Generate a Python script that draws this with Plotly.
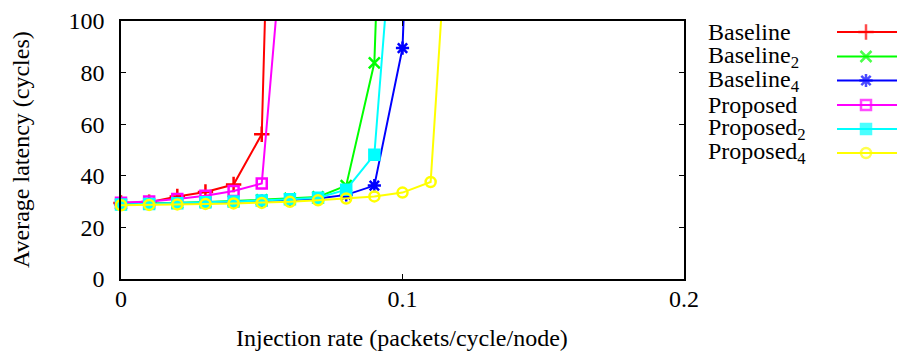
import plotly.graph_objects as go

# Injection rates (packets/cycle/node)
x_baseline = [0.00, 0.01, 0.02, 0.03, 0.04, 0.05, 0.06]
x_baseline2 = [0.00, 0.01, 0.02, 0.03, 0.04, 0.05, 0.06, 0.07, 0.08, 0.09, 0.10]
x_baseline4 = [0.00, 0.01, 0.02, 0.03, 0.04, 0.05, 0.06, 0.07, 0.08, 0.09, 0.10, 0.11]
x_proposed = [0.00, 0.01, 0.02, 0.03, 0.04, 0.05, 0.06]
x_proposed2 = [0.00, 0.01, 0.02, 0.03, 0.04, 0.05, 0.06, 0.07, 0.08, 0.09, 0.10]
x_proposed4 = [0.00, 0.01, 0.02, 0.03, 0.04, 0.05, 0.06, 0.07, 0.08, 0.09, 0.10, 0.11, 0.12]

# Average latency (cycles)
y_baseline = [29.5, 29.8, 32.0, 33.7, 36.6, 56.1, 450]
y_baseline2 = [29.0, 29.2, 29.5, 29.8, 30.2, 30.7, 31.2, 31.8, 36.2, 83.8, 400]
y_baseline4 = [28.9, 29.0, 29.3, 29.6, 29.9, 30.2, 30.6, 31.2, 32.6, 36.2, 89.5, 380]
y_proposed = [29.6, 30.0, 31.0, 32.3, 34.1, 37.0, 164]
y_proposed2 = [28.9, 29.1, 29.4, 29.7, 30.0, 30.4, 30.9, 31.5, 34.6, 48.2, 187]
y_proposed4 = [28.6, 28.7, 28.9, 29.1, 29.3, 29.5, 29.9, 30.5, 31.2, 32.0, 33.5, 37.6, 207]

names = ["Baseline", "Baseline<sub>2</sub>", "Baseline<sub>4</sub>",
         "Proposed", "Proposed<sub>2</sub>", "Proposed<sub>4</sub>"]
colors = ["#ff0000", "#00ff00", "#0000ff", "#ff00ff", "#00ffff", "#ffff00"]
symbols = ["cross-thin", "x-thin", "asterisk", "square-open", "square", "circle-open"]
sizes = [11, 11, 11, 10, 10, 10]

xs = [x_baseline, x_baseline2, x_baseline4, x_proposed, x_proposed2, x_proposed4]
ys = [y_baseline, y_baseline2, y_baseline4, y_proposed, y_proposed2, y_proposed4]

FONT = "Liberation Serif"
FS = 24
W, H = 899, 356
L, R, T, B = 121, 2, 21, 77
plot_w = W - L - R
plot_h = H - T - B
main_right = (684 - L) / plot_w


def px_to_paper_x(px):
    return (px - L) / plot_w


def px_to_paper_y(py):
    return (H - B - py) / plot_h


fig = go.Figure()

for x, y, nm, c, s, sz in zip(xs, ys, names, colors, symbols, sizes):
    fig.add_trace(go.Scatter(
        x=x, y=y, mode="lines+markers", name=nm,
        line=dict(color=c, width=2),
        marker=dict(symbol=s, size=sz, color=c, line=dict(color=c, width=2.5)),
        cliponaxis=False, showlegend=False,
    ))

# Key: label on the left, line sample with marker on the right
key_rows = [32, 56.5, 80.5, 105, 129, 153]
key_x0, key_x1, key_mid = 837, 897, 866
for row, nm, c, s, sz in zip(key_rows, names, colors, symbols, sizes):
    fig.add_trace(go.Scatter(
        x=[key_x0, key_mid, key_x1], y=[row, row, row], mode="lines+markers",
        xaxis="x2", yaxis="y2",
        line=dict(color=c, width=2),
        marker=dict(symbol=s, size=[0, sz, 0], color=c, line=dict(color=c, width=2.5)),
        showlegend=False, hoverinfo="skip", cliponaxis=False,
    ))
    fig.add_annotation(
        x=px_to_paper_x(706), y=px_to_paper_y(row), xref="paper", yref="paper",
        text=nm, showarrow=False, xanchor="left", yanchor="middle",
        font=dict(family=FONT, size=FS, color="black"),
    )

# Axis titles
fig.add_annotation(
    x=px_to_paper_x(21), y=px_to_paper_y(150), xref="paper", yref="paper",
    text="Average latency (cycles)", textangle=-90, showarrow=False,
    xanchor="center", yanchor="middle", font=dict(family=FONT, size=FS, color="black"),
)
fig.add_annotation(
    x=px_to_paper_x(402), y=px_to_paper_y(338), xref="paper", yref="paper",
    text="Injection rate (packets/cycle/node)", showarrow=False,
    xanchor="center", yanchor="middle", font=dict(family=FONT, size=FS, color="black"),
)

axis_common = dict(
    showline=True, linecolor="black", linewidth=1.5, mirror="ticks",
    ticks="inside", ticklen=5, tickcolor="black", tickwidth=1,
    showgrid=False, zeroline=False, automargin=False,
    tickfont=dict(family=FONT, size=FS, color="black"),
)

fig.update_layout(
    width=W, height=H,
    margin=dict(l=L, r=R, t=T, b=B, autoexpand=False),
    paper_bgcolor="white", plot_bgcolor="rgba(0,0,0,0)",
    xaxis=dict(
        range=[0, 0.2], tickvals=[0, 0.1, 0.2], ticktext=["0", "0.1", "0.2"],
        domain=[0, main_right], ticklabelstandoff=-3,
        **axis_common,
    ),
    yaxis=dict(
        range=[0, 100], tickvals=[0, 20, 40, 60, 80, 100],
        ticklabelstandoff=10,
        **axis_common,
    ),
    xaxis2=dict(domain=[0, 1], range=[L, W - R], visible=False, anchor="y2",
                fixedrange=True),
    yaxis2=dict(domain=[0, 1], range=[H - B, T], visible=False, anchor="x2",
                fixedrange=True),
)

fig.write_html("out.html")
